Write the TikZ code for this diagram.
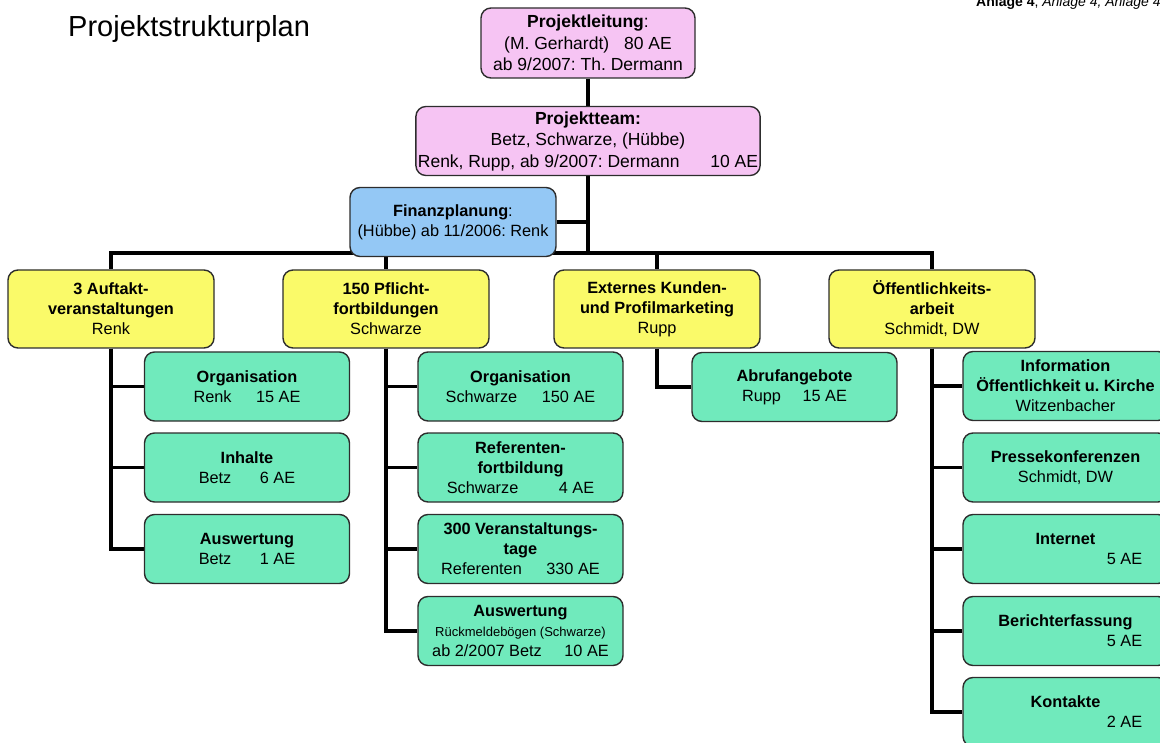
\documentclass[tikz,border=0pt]{standalone}
\usepackage{fontspec}
\setmainfont{Liberation Sans}
\frenchspacing
\usetikzlibrary{backgrounds}
\definecolor{leadPink}{RGB}{246,196,243}
\definecolor{finBlue}{RGB}{148,200,245}
\definecolor{workYellow}{RGB}{250,250,105}
\definecolor{taskGreen}{RGB}{112,234,188}
\definecolor{edgeGray}{RGB}{45,45,45}
\tikzset{
  box/.style={draw=edgeGray, line width=1.4pt, rounded corners=10pt, align=center, inner sep=2pt, font=\fontsize{16.3}{20}\selectfont},
  leadbox/.style={box, fill=leadPink, font=\fontsize{17.5}{21.5}\selectfont},
  finbox/.style={box, fill=finBlue, minimum width=206pt, minimum height=69pt},
  workbox/.style={box, fill=workYellow, minimum width=206pt, minimum height=78pt},
  taskbox/.style={box, fill=taskGreen, minimum width=205pt, minimum height=69pt},
  link/.style={line width=3.3pt},
}
\begin{document}
\begin{tikzpicture}[x=1pt,y=-1pt]
				\useasboundingbox (0,0) rectangle (1160,743);
				\node[anchor=base west, inner sep=0pt, font=\fontsize{29}{34}\selectfont] (title) at (68,37) {Projektstrukturplan};
				\node[anchor=base west, inner sep=0pt, font=\fontsize{14}{16}\selectfont] (anlage) at (976,7) {\textbf{Anlage 4}, \textit{Anlage 4, Anlage 4}};
				% Leitung und Team
				\node[leadbox, minimum width=214pt, minimum height=70pt] (lead) at (588,43) {\textbf{Projektleitung}:\\(M. Gerhardt)\hspace{10pt} 80 AE\\ab 9/2007: Th. Dermann};
				\node[leadbox, minimum width=320pt, minimum height=69pt] (team) at (588,141) {\textbf{Projektteam:}\\Betz, Schwarze, (Hübbe)\\Renk, Rupp, ab 9/2007: Dermann\hspace{26pt} 10 AE};
				\node[finbox] (fin) at (453,222) {\textbf{Finanzplanung}:\\(Hübbe) ab 11/2006: Renk};
				% Teilprojekte
				\node[workbox] (auftakt) at (111,309) {\textbf{3 Auftakt-}\\\textbf{veranstaltungen}\\Renk};
				\node[workbox] (pflicht) at (386,309) {\textbf{150 Pflicht-}\\\textbf{fortbildungen}\\Schwarze};
				\node[workbox] (kunden) at (657,309) {\textbf{Externes Kunden-}\\\textbf{und Profilmarketing}\\Rupp};
				\node[workbox] (oeff) at (932,309) {\textbf{Öffentlichkeits-}\\\textbf{arbeit}\\Schmidt, DW};
				% Arbeitspakete
				\node[taskbox] (orgA) at (247,386.5) {\textbf{Organisation}\\Renk\hspace{20pt} 15 AE};
				\node[taskbox] (inhA) at (247,467.5) {\textbf{Inhalte}\\Betz\hspace{24pt} 6 AE};
				\node[taskbox] (ausA) at (247,549) {\textbf{Auswertung}\\Betz\hspace{24pt} 1 AE};
				\node[taskbox] (orgP) at (520.5,386.5) {\textbf{Organisation}\\Schwarze\hspace{20pt} 150 AE};
				\node[taskbox] (refP) at (520.5,467.5) {\textbf{Referenten-}\\\textbf{fortbildung}\\Schwarze\hspace{36pt} 4 AE};
				\node[taskbox] (tagP) at (520.5,549) {\textbf{300 Veranstaltungs-}\\\textbf{tage}\\Referenten\hspace{20pt} 330 AE};
				\node[taskbox] (ausP) at (520.5,631) {\textbf{Auswertung}\\{\fontsize{13}{15}\selectfont Rückmeldebögen (Schwarze)}\\ab 2/2007 Betz\hspace{18pt} 10 AE};
				\node[taskbox] (abruf) at (794.5,387) {\textbf{Abrufangebote}\\Rupp\hspace{17pt} 15 AE};
				\node[taskbox] (infO) at (1065.5,386) {\textbf{Information}\\\textbf{Öffentlichkeit u. Kirche}\\Witzenbacher};
				\node[taskbox] (preO) at (1065.5,467.5) {\textbf{Pressekonferenzen}\\Schmidt, DW};
				\node[taskbox] (intO) at (1065.5,549) {\textbf{Internet}\\\hspace*{118pt}5 AE};
				\node[taskbox] (berO) at (1065.5,631) {\textbf{Berichterfassung}\\\hspace*{118pt}5 AE};
				\node[taskbox] (konO) at (1065.5,712) {\textbf{Kontakte}\\\hspace*{118pt}2 AE};
				% Verbindungen
				\begin{scope}[on background layer]
				\coordinate (bar) at (588,253);
				\draw[link] (lead) -- (team);
				\draw[link] (team.south) -- (bar);
				\draw[link] (fin.east) -- (fin.east -| bar);
				\foreach \w in {auftakt,pflicht,kunden,oeff}
				\draw[link] (bar) -| (\w.north);
				\foreach \t in {orgA,inhA,ausA}
				\draw[link] (auftakt.south) |- (\t.west);
				\foreach \t in {orgP,refP,tagP,ausP}
				\draw[link] (pflicht.south) |- (\t.west);
				\draw[link] (kunden.south) |- (abruf.west);
				\foreach \t in {infO,preO,intO,berO,konO}
				\draw[link] (oeff.south) |- (\t.west);
				\end{scope}
\end{tikzpicture}
\end{document}
